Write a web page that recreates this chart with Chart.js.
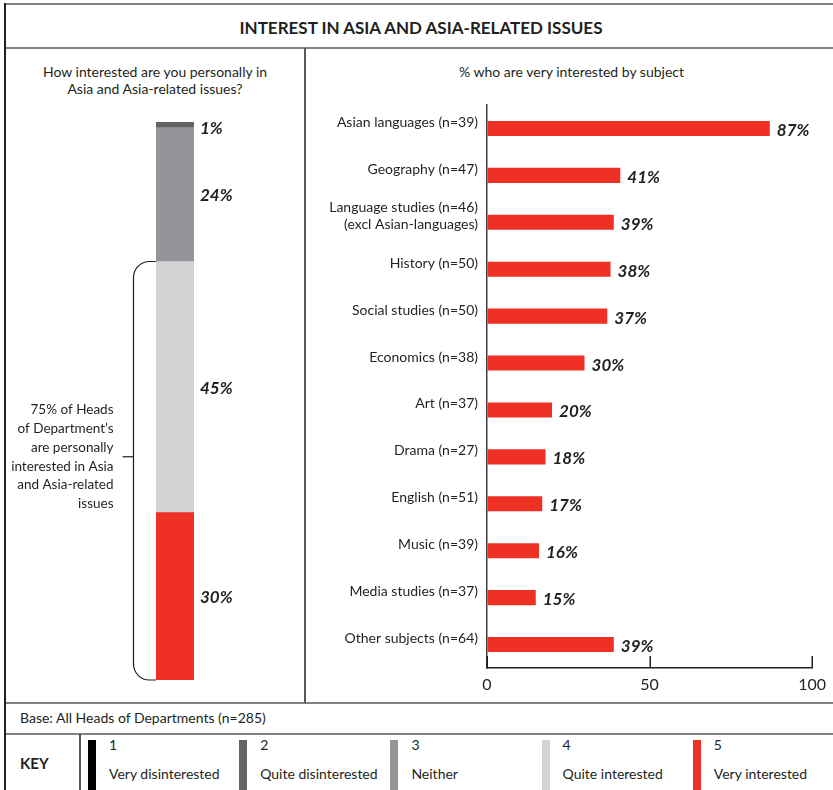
<!DOCTYPE html>
<html>
<head>
<meta charset="utf-8">
<title>Interest in Asia and Asia-related issues</title>
<script src="https://cdn.jsdelivr.net/npm/chart.js@4.4.1/dist/chart.umd.min.js"></script>
<style>
  html, body { margin: 0; padding: 0; background: #ffffff; }
  body { width: 833px; height: 790px; position: relative; overflow: hidden;
         font-family: Lato, "Open Sans", sans-serif; color: #231f20; }
  .rule { position: absolute; }
  .txt { position: absolute; white-space: nowrap; }
  canvas { position: absolute; }
  .key-item { position: absolute; top: 736px; height: 54px; }
  .key-item .sw { position: absolute; left: 0; top: 4px; width: 8px; height: 54px; }
  .key-item .num { position: absolute; left: 21px; top: 0px; font-size: 14px; line-height: 18px; }
  .key-item .lab { position: absolute; left: 21px; top: 29px; font-size: 14px; line-height: 18px; white-space: nowrap; }
</style>
</head>
<body>

<!-- frame -->
<div class="rule" style="left:5px;top:3px;width:828px;height:2px;background:#808285"></div>
<div class="rule" style="left:5px;top:47px;width:828px;height:2px;background:#808285"></div>
<div class="rule" style="left:5px;top:702px;width:828px;height:2px;background:#808285"></div>
<div class="rule" style="left:5px;top:733px;width:828px;height:2px;background:#808285"></div>
<div class="rule" style="left:4px;top:3px;width:2px;height:787px;background:#231f20"></div>
<div class="rule" style="left:304px;top:48px;width:2px;height:655px;background:#58595b"></div>
<div class="rule" style="left:79px;top:734px;width:2px;height:56px;background:#58595b"></div>

<div class="txt" style="left:5px;width:832px;top:16px;text-align:center;font-weight:bold;font-size:17px;line-height:24px">INTEREST IN ASIA AND ASIA-RELATED ISSUES</div>
<div class="txt" style="left:5px;width:300px;top:63px;text-align:center;font-size:14px;line-height:17px">How interested are you personally in<br>Asia and Asia-related issues?</div>
<div class="txt" style="left:306px;width:531px;top:63px;text-align:center;font-size:14px;line-height:17px">% who are very interested by subject</div>
<div class="txt" style="left:20px;top:709px;font-size:14px;line-height:18px">Base: All Heads of Departments (n=285)</div>
<div class="txt" style="left:20px;top:754px;font-size:15px;font-weight:bold;line-height:18px">KEY</div>
<div id="key"></div>

<canvas id="overall" width="298" height="653" style="left:6px;top:49px"></canvas>
<canvas id="subjects" width="527" height="653" style="left:306px;top:49px"></canvas>

<script>
// Interest scale (1 = very disinterested ... 5 = very interested)
const scaleCodes  = ['1', '2', '3', '4', '5'];
const scaleLabels = ['Very disinterested', 'Quite disinterested', 'Neither', 'Quite interested', 'Very interested'];
const scaleColors = ['#000000', '#636466', '#939598', '#d1d3d4', '#ee3124'];
// Share of all Heads of Department at each level (%)
const overallShares = [0, 1, 24, 45, 30];

// % very interested, by subject taught
const subjects = [
  'Asian languages (n=39)',
  'Geography (n=47)',
  ['Language studies (n=46)', '(excl Asian-languages)'],
  'History (n=50)',
  'Social studies (n=50)',
  'Economics (n=38)',
  'Art (n=37)',
  'Drama (n=27)',
  'English (n=51)',
  'Music (n=39)',
  'Media studies (n=37)',
  'Other subjects (n=64)'
];
const veryInterested = [87, 41, 39, 38, 37, 30, 20, 18, 17, 16, 15, 39];
const axisTicks = [0, 50, 100];

const ink = '#231f20';
const red = scaleColors[4];
const valueFont = 'italic bold 17px Lato, "Open Sans", sans-serif';

Chart.defaults.font.family = 'Lato, "Open Sans", sans-serif';
Chart.defaults.color = ink;

// Key row
(function buildKey() {
  const key = document.getElementById('key');
  const startX = 88, step = 151.2;
  scaleCodes.forEach((code, i) => {
    const item = document.createElement('div');
    item.className = 'key-item';
    item.style.left = (startX + i * step) + 'px';
    item.innerHTML = '<div class="sw" style="background:' + scaleColors[i] + '"></div>' +
                     '<div class="num">' + code + '</div>' +
                     '<div class="lab">' + scaleLabels[i] + '</div>';
    key.appendChild(item);
  });
})();

// Left panel: single stacked column (very interested at the base) with bracket note
const interestedTotal = overallShares[3] + overallShares[4];
const stackOrder = [4, 3, 2, 1, 0];

const overallLabels = {
  id: 'overallLabels',
  afterDatasetsDraw(chart) {
    const ctx = chart.ctx;
    ctx.save();
    ctx.font = valueFont;
    ctx.fillStyle = ink;
    ctx.textAlign = 'left';
    ctx.textBaseline = 'middle';
    chart.data.datasets.forEach((ds, i) => {
      const v = ds.data[0];
      if (!v) return;
      const el = chart.getDatasetMeta(i).data[0];
      const yc = (el.y + el.base) / 2 + (v < 3 ? 3 : 0);
      ctx.fillText(v + '%', chart.chartArea.right + 6, yc + 1);
    });
    ctx.restore();
  }
};

const bracketNote = {
  id: 'bracketNote',
  afterDraw(chart) {
    const ctx = chart.ctx;
    const y = chart.scales.y;
    const top = y.getPixelForValue(interestedTotal);
    const bottom = y.getPixelForValue(0);
    const barLeft = chart.chartArea.left;
    const bx = barLeft - 22.5;
    const r = 16;
    ctx.save();
    ctx.strokeStyle = ink;
    ctx.lineWidth = 1.2;
    ctx.beginPath();
    ctx.moveTo(barLeft, top);
    ctx.arcTo(bx, top, bx, top + r, r);
    ctx.arcTo(bx, bottom, barLeft, bottom, r);
    ctx.lineTo(barLeft, bottom);
    ctx.stroke();

    const noteY = (top + bottom) / 2 - 14;
    ctx.beginPath();
    ctx.moveTo(bx - 11, noteY);
    ctx.lineTo(bx, noteY);
    ctx.stroke();

    const lines = [interestedTotal + '% of Heads', 'of Department\u2019s', 'are personally',
                   'interested in Asia', 'and Asia-related', 'issues'];
    const lh = 18.8;
    ctx.font = '13.5px Lato, "Open Sans", sans-serif';
    ctx.fillStyle = ink;
    ctx.textAlign = 'right';
    ctx.textBaseline = 'middle';
    const first = noteY - (lines.length - 1) * lh / 2;
    lines.forEach((t, i) => ctx.fillText(t, bx - 20, first + i * lh));
    ctx.restore();
  }
};

new Chart(document.getElementById('overall'), {
  type: 'bar',
  data: {
    labels: ['All'],
    datasets: stackOrder.map(i => ({
      label: scaleLabels[i],
      data: [overallShares[i]],
      backgroundColor: scaleColors[i],
      borderWidth: 0,
      barPercentage: 1,
      categoryPercentage: 1
    }))
  },
  options: {
    responsive: false,
    animation: false,
    layout: { padding: { top: 73, bottom: 22, left: 150, right: 110 } },
    plugins: { legend: { display: false }, tooltip: { enabled: false } },
    scales: {
      x: { stacked: true, display: false },
      y: { stacked: true, display: false, min: 0, max: 100 }
    }
  },
  plugins: [overallLabels, bracketNote]
});

// Right panel: horizontal bars by subject
const subjectLabels = {
  id: 'subjectLabels',
  afterDatasetsDraw(chart) {
    const ctx = chart.ctx;
    const meta = chart.getDatasetMeta(0);
    ctx.save();
    ctx.font = valueFont;
    ctx.fillStyle = ink;
    ctx.textAlign = 'left';
    ctx.textBaseline = 'middle';
    meta.data.forEach((el, i) => {
      ctx.fillText(veryInterested[i] + '%', el.x + 7, el.y + 2);
    });
    ctx.restore();
  }
};

// Tick marks on the value axis point up into the plot
const innerTicks = {
  id: 'innerTicks',
  afterDraw(chart) {
    const x = chart.scales.x;
    const base = chart.chartArea.bottom;
    const ctx = chart.ctx;
    ctx.save();
    ctx.strokeStyle = ink;
    ctx.lineWidth = 1.5;
    ctx.beginPath();
    x.ticks.forEach(t => {
      const px = Math.round(x.getPixelForValue(t.value)) + 0.25;
      ctx.moveTo(px, base);
      ctx.lineTo(px, base - 12);
    });
    ctx.stroke();
    ctx.restore();
  }
};

new Chart(document.getElementById('subjects'), {
  type: 'bar',
  data: {
    labels: subjects,
    datasets: [{
      label: 'Very interested',
      data: veryInterested,
      backgroundColor: red,
      borderWidth: 0,
      barPercentage: 0.32,
      categoryPercentage: 1
    }]
  },
  options: {
    indexAxis: 'y',
    responsive: false,
    animation: false,
    layout: { padding: { top: 56, bottom: 0, left: 0, right: 0 } },
    plugins: { legend: { display: false }, tooltip: { enabled: false } },
    scales: {
      x: {
        type: 'linear',
        min: 0,
        max: 100,
        afterBuildTicks(scale) { scale.ticks = axisTicks.map(v => ({ value: v })); },
        afterFit(scale) { scale.height = 34; },
        grid: { drawOnChartArea: false, drawTicks: false },
        border: { display: true, color: '#231f20', width: 1.5 },
        ticks: { padding: 7, maxRotation: 0, font: { size: 16 }, color: ink }
      },
      y: {
        afterFit(scale) { scale.width = 181; },
        grid: { display: false, drawTicks: false },
        border: { display: true, color: '#414042', width: 1.5 },
        ticks: { padding: 9, labelOffset: -6, font: { size: 14 }, color: ink, autoSkip: false }
      }
    }
  },
  plugins: [subjectLabels, innerTicks]
});
</script>
</body>
</html>
